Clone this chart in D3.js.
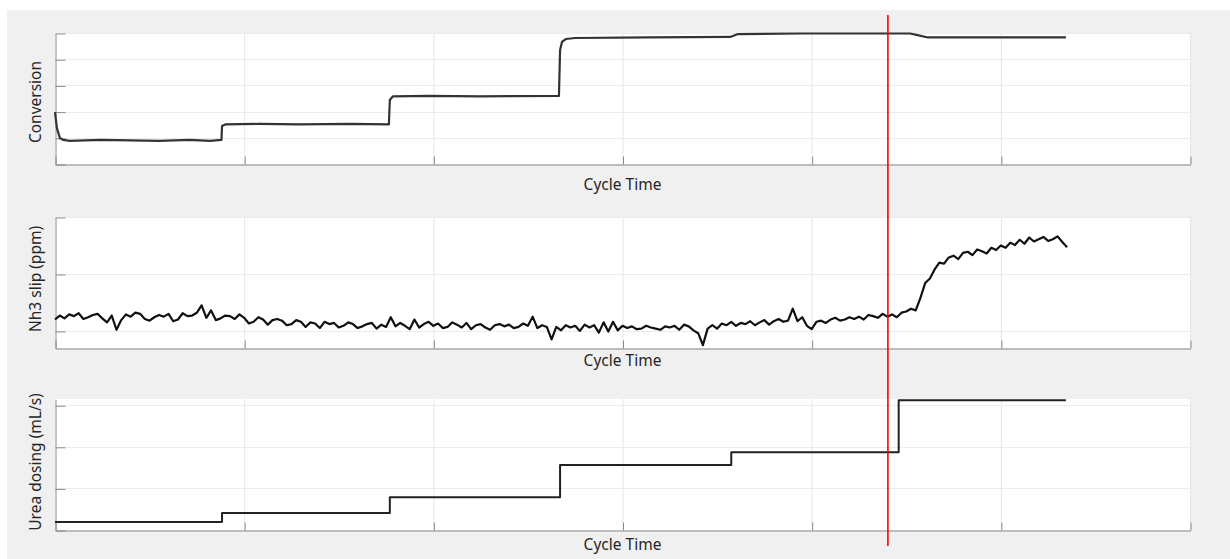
<!DOCTYPE html>
<html>
<head>
<meta charset="utf-8">
<script src="https://cdn.jsdelivr.net/npm/d3@7"></script>
<style>
  body { margin: 0; background: #fff; }
  svg { display: block; font-family: 'Noto Sans', sans-serif; }
</style>
</head>
<body>
<div id="chart"></div>
<script>
// shared cycle time axis
const timeTicks = [0, 100, 200, 300, 400, 500, 600];
const markerTime = 440.3;

// conversion trace (time, value)
const convTime = [0, 1, 2.6, 4.2, 8, 24, 40, 55, 71, 82, 88, 88.3, 90, 108, 129.5, 156, 176.5,
  177, 178.6, 198, 224.6, 266.4, 267, 268, 270, 275, 314.5, 357, 361, 394, 452, 456, 461.5, 499.5, 534.4];
const convValue = [1.98, 1.37, 0.99, 0.92, 0.88, 0.92, 0.90, 0.88, 0.92, 0.88, 0.92, 1.45, 1.51, 1.53, 1.51, 1.53, 1.51,
  2.44, 2.58, 2.60, 2.58, 2.60, 4.35, 4.66, 4.77, 4.81, 4.83, 4.85, 4.96, 4.98, 4.98, 4.92, 4.83, 4.83, 4.83];
const convTicks = [0, 1, 2, 3, 4, 5];

// NH3 slip, sampled every nh3Dt
const nh3Dt = 2.5;
const nh3Values = [
  2.0, 2.7, 2.2, 2.9, 2.6, 3.1, 2.1, 2.4, 2.8, 3.0,
  2.2, 1.5, 2.7, 0.2, 1.9, 2.9, 2.5, 3.2, 3.0, 2.1,
  1.8, 2.4, 2.8, 2.5, 3.0, 1.7, 2.0, 3.1, 2.6, 2.7,
  3.2, 4.5, 2.3, 3.6, 1.9, 2.2, 2.7, 2.6, 2.1, 2.9,
  2.3, 1.3, 1.6, 2.4, 2.0, 1.1, 1.9, 2.1, 1.8, 1.0,
  1.2, 1.9, 1.6, 0.7, 1.5, 1.3, 0.5, 1.6, 1.2, 1.4,
  0.6, 0.9, 1.5, 1.2, 0.5, 0.8, 1.2, 1.4, 0.4, 1.1,
  0.7, 2.4, 0.8, 1.4, 0.9, 0.3, 2.0, 0.6, 1.2, 1.6,
  0.9, 1.3, 0.5, 0.7, 1.5, 1.1, 0.6, 1.4, 0.3, 1.0,
  1.2, 0.6, 0.2, 1.0, 1.2, 0.8, 1.1, 0.5, 0.7, 1.3,
  0.9, 2.5, 0.5, 1.0, 0.7, -1.5, 0.7, 0.1, 1.0, 0.6,
  0.9, 0.0, 1.1, 0.6, 1.0, -0.3, 1.5, -0.1, 1.6, 0.1,
  0.9, 0.5, 0.8, 0.3, 0.4, 0.9, 0.6, 0.4, 0.2, 0.8,
  0.6, 0.9, 0.2, 1.1, 0.8, 0.1, -0.4, -2.5, 0.4, 1.0,
  0.4, 1.3, 1.0, 1.6, 0.9, 1.4, 1.2, 1.7, 1.0, 1.5,
  1.9, 1.1, 1.7, 2.1, 1.6, 1.8, 3.9, 1.7, 2.4, 0.9,
  0.3, 1.6, 1.8, 1.4, 2.0, 2.3, 1.8, 2.0, 2.4, 2.1,
  2.5, 2.0, 2.8, 2.6, 2.3, 3.0, 2.5, 2.9, 2.4, 3.2,
  3.4, 3.9, 3.6, 5.8, 8.4, 9.2, 10.8, 12.0, 11.8, 12.9,
  13.2, 12.6, 13.7, 13.9, 13.3, 14.3, 14.0, 13.6, 14.6, 14.2,
  15.0, 14.6, 15.5, 15.1, 16.0, 15.3, 16.4, 15.7, 16.1, 16.5,
  15.8, 16.1, 16.6, 15.6, 14.7
];
const nh3Ticks = [0, 10, 20];

// urea dosing steps
const ureaStepTime = [0, 88.3, 177, 267, 357.5, 446, 534.4];
const ureaLevel = [0.19, 0.41, 0.79, 1.56, 1.87, 3.12, 3.12];
const ureaTicks = [0, 1, 2, 3];

const width = 1230, height = 559;
const left = 55, right = 1190;

const panels = [
  {label: 'Conversion', top: 33, bottom: 164, domain: [0, 5], ticks: convTicks, labelY: 102, xLabelY: 190,
   points: convTime.map((t, i) => [t, convValue[i]]), curve: d3.curveLinear, color: '#333', width: 2.2},
  {label: 'Nh3 slip (ppm)', top: 217, bottom: 348, domain: [-3, 20], ticks: nh3Ticks, labelY: 279, xLabelY: 366,
   points: nh3Values.map((v, i) => [i * nh3Dt, v]), curve: d3.curveLinear, color: '#111', width: 2.2},
  {label: 'Urea dosing (mL/s)', top: 399, bottom: 530, domain: [0, 3.15], ticks: ureaTicks, labelY: 462, xLabelY: 550,
   points: ureaStepTime.map((t, i) => [t, ureaLevel[i]]), curve: d3.curveStepAfter, color: '#222', width: 2}
];

const svg = d3.select('#chart').append('svg')
  .attr('width', width)
  .attr('height', height)
  .attr('viewBox', [0, 0, width, height]);

svg.append('rect')
  .attr('x', 7).attr('y', 10)
  .attr('width', width - 7).attr('height', height - 10)
  .attr('fill', '#f0f0f0');

const x = d3.scaleLinear().domain([0, 600]).range([left, right]);

panels.forEach(p => {
  const y = d3.scaleLinear().domain(p.domain).range([p.bottom, p.top]);
  const g = svg.append('g');

  g.append('rect')
    .attr('x', left).attr('y', p.top)
    .attr('width', right - left).attr('height', p.bottom - p.top)
    .attr('fill', '#fff');

  // grid
  g.append('g')
    .selectAll('line.vg')
    .data(timeTicks.slice(1))
    .enter().append('line')
    .attr('x1', d => x(d) + 0.5).attr('x2', d => x(d) + 0.5)
    .attr('y1', p.top).attr('y2', p.bottom)
    .attr('stroke', '#e6e6e6');
  g.append('g')
    .selectAll('line.hg')
    .data(p.ticks.filter(d => y(d) < p.bottom - 2))
    .enter().append('line')
    .attr('x1', left).attr('x2', right)
    .attr('y1', d => Math.round(y(d)) + 0.5).attr('y2', d => Math.round(y(d)) + 0.5)
    .attr('stroke', '#ececec');

  // axes
  const yAxis = g.append('g')
    .attr('transform', `translate(${left + 0.5},0.5)`)
    .call(d3.axisLeft(y).tickValues(p.ticks).tickSize(-10).tickSizeOuter(0).tickFormat(''));
  const xAxis = g.append('g')
    .attr('transform', `translate(0.5,${p.bottom + 0.5})`)
    .call(d3.axisBottom(x).tickValues(timeTicks).tickSize(-8).tickSizeOuter(0).tickFormat(''));
  [yAxis, xAxis].forEach(a => {
    a.selectAll('path, line').attr('stroke', '#8a8a8a');
  });

  // trace
  g.append('path')
    .datum(p.points)
    .attr('fill', 'none')
    .attr('stroke', p.color)
    .attr('stroke-width', p.width)
    .attr('stroke-linejoin', 'round')
    .attr('d', d3.line().x(d => x(d[0])).y(d => y(d[1])).curve(p.curve));

  g.append('text')
    .attr('transform', `translate(41,${p.labelY}) rotate(-90)`)
    .attr('text-anchor', 'middle')
    .attr('fill', '#262626')
    .style('font-size', '15.5px')
    .text(p.label);

  g.append('text')
    .attr('x', (left + right) / 2)
    .attr('y', p.xLabelY)
    .attr('text-anchor', 'middle')
    .attr('fill', '#262626')
    .style('font-size', '15.5px')
    .text('Cycle Time');
});

// red marker across all panels
svg.append('line')
  .attr('x1', x(markerTime)).attr('x2', x(markerTime))
  .attr('y1', 15).attr('y2', 546)
  .attr('stroke', '#ff0000')
  .attr('stroke-width', 1.6);
</script>
</body>
</html>
